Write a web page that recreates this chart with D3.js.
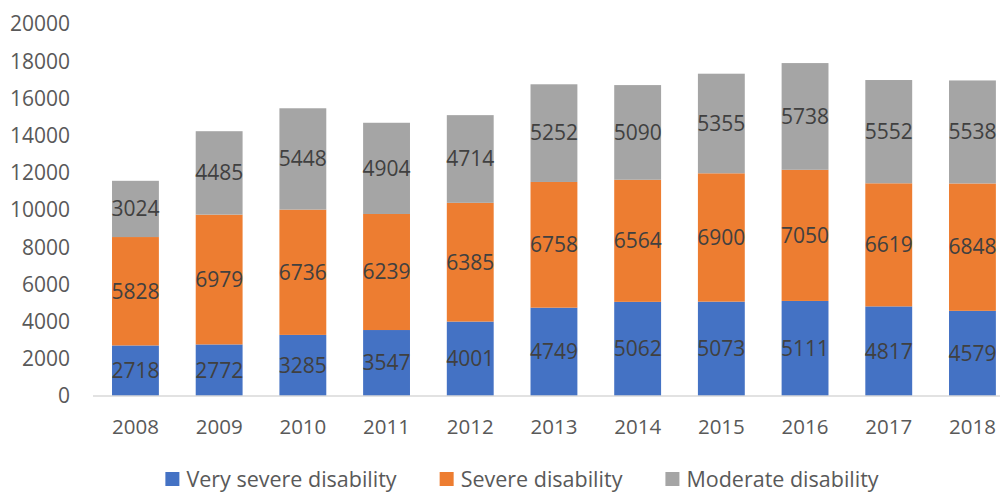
<!DOCTYPE html>
<html>
<head>
<meta charset="utf-8">
<script src="https://cdn.jsdelivr.net/npm/d3@7"></script>
<style>
  body { margin: 0; background: #fff; }
  text { font-family: "Open Sans", sans-serif; }
</style>
</head>
<body>
<div id="chart"></div>
<script>
var years = ["2008","2009","2010","2011","2012","2013","2014","2015","2016","2017","2018"];
var verySevere = [2718, 2772, 3285, 3547, 4001, 4749, 5062, 5073, 5111, 4817, 4579];
var severe     = [5828, 6979, 6736, 6239, 6385, 6758, 6564, 6900, 7050, 6619, 6848];
var moderate   = [3024, 4485, 5448, 4904, 4714, 5252, 5090, 5355, 5738, 5552, 5538];
var seriesNames = ["Very severe disability", "Severe disability", "Moderate disability"];
var yTicks = [0, 2000, 4000, 6000, 8000, 10000, 12000, 14000, 16000, 18000, 20000];

var width = 1000, height = 494;
var colors = ["#4472C4", "#ED7D31", "#A5A5A5"];

var rows = years.map(function(y, i) {
  return { year: y, vs: verySevere[i], s: severe[i], m: moderate[i] };
});
var stack = d3.stack().keys(["vs", "s", "m"]);
var layers = stack(rows);

var x = d3.scaleBand().domain(years).range([93.6, 1014.3])
    .paddingInner(0.44).paddingOuter(0.22);
var y = d3.scaleLinear().domain([0, 20000]).range([396, 24]);

var svg = d3.select("#chart").append("svg")
    .attr("width", width)
    .attr("height", height);

// y tick labels (no axis line, no gridlines)
svg.append("g").selectAll("text")
    .data(yTicks)
  .enter().append("text")
    .attr("x", 70)
    .attr("y", function(d) { return y(d); })
    .attr("dy", "0.35em")
    .attr("text-anchor", "end")
    .attr("fill", "#595959")
    .style("font-size", "21px")
    .text(function(d) { return d; });

// bars
var g = svg.append("g");
layers.forEach(function(layer, li) {
  g.selectAll(".bar" + li)
      .data(layer)
    .enter().append("rect")
      .attr("class", "bar" + li)
      .attr("x", function(d) { return x(d.data.year); })
      .attr("width", x.bandwidth())
      .attr("y", function(d) { return y(d[1]); })
      .attr("height", function(d) { return y(d[0]) - y(d[1]); })
      .attr("fill", colors[li]);
  g.selectAll(".lbl" + li)
      .data(layer)
    .enter().append("text")
      .attr("x", function(d) { return x(d.data.year) + x.bandwidth() / 2; })
      .attr("y", function(d) { return y((d[0] + d[1]) / 2); })
      .attr("dy", "0.35em")
      .attr("text-anchor", "middle")
      .attr("fill", "#404040")
      .style("font-size", "21px")
      .text(function(d) { return d[1] - d[0]; });
});

// x axis
var xAxis = svg.append("g")
    .attr("transform", "translate(0," + y(0) + ")")
    .call(d3.axisBottom(x).tickSize(0).tickPadding(23));
xAxis.select(".domain").attr("stroke", "#D9D9D9").attr("stroke-width", 1.3)
    .attr("d", "M93,0H1000");
xAxis.selectAll("text")
    .attr("fill", "#595959")
    .style("font-size", "20.5px")
    .style("font-family", "'Open Sans', sans-serif");

// legend
var legend = svg.append("g").attr("transform", "translate(0,479)");
var items = legend.selectAll("g")
    .data(seriesNames)
  .enter().append("g");
items.append("rect")
    .attr("width", 14).attr("height", 14)
    .attr("y", -7)
    .attr("fill", function(d, i) { return colors[i]; });
items.append("text")
    .attr("x", 21)
    .attr("dy", "0.35em")
    .attr("fill", "#595959")
    .style("font-size", "21.5px")
    .text(function(d) { return d; });

var offs = [], cur = 0;
items.each(function() {
  var w = 21 + d3.select(this).select("text").node().getComputedTextLength();
  offs.push(cur);
  cur += w + 43;
});
var total = cur - 43;
var start = 522 - total / 2;
items.attr("transform", function(d, i) { return "translate(" + (start + offs[i]) + ",0)"; });
</script>
</body>
</html>
